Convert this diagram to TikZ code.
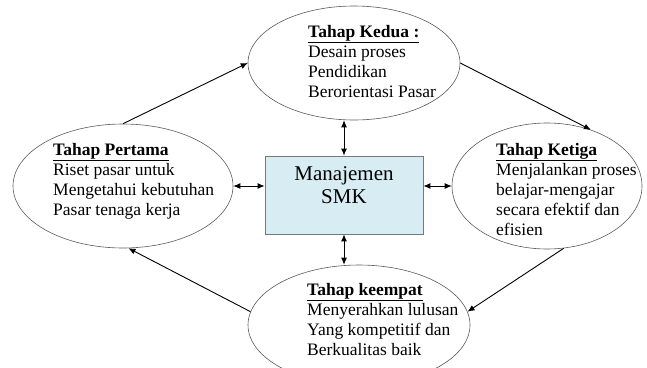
\documentclass[tikz,border=0pt]{standalone}
\usepackage{fontspec}
\setmainfont{Liberation Serif}
\usetikzlibrary{shapes.geometric,arrows.meta}

\begin{document}
\begin{tikzpicture}[x=1pt,y=1pt,yscale=-1,xscale=1,
  tahap/.style={ellipse, draw={rgb, 255:red, 90; green, 90; blue, 90}, line width=0.6pt, inner sep=0pt},
  isi/.style={anchor=north west, inner sep=0pt, align=left, font=\fontsize{17.5}{20}\selectfont},
  panah/.style={-{Latex[length=7pt,width=6pt]}, line width=0.9pt},
  duapanah/.style={{Latex[length=7pt,width=6pt]}-{Latex[length=7pt,width=6pt]}, line width=0.9pt}]
\useasboundingbox (0,0) rectangle (647,367);

%Shape: Ellipse [kedua]
\node [tahap, minimum width=212, minimum height=114] (kedua) at (354,63) {};
%Shape: Ellipse [pertama]
\node [tahap, minimum width=220, minimum height=124] (pertama) at (123,186) {};
%Shape: Ellipse [ketiga]
\node [tahap, minimum width=190, minimum height=126] (ketiga) at (547,186) {};
%Shape: Ellipse [keempat]
\node [tahap, minimum width=222, minimum height=120] (keempat) at (359,325) {};
%Shape: Rectangle [smk]
\node [draw={rgb, 255:red, 120; green, 120; blue, 120}, fill={rgb, 255:red, 216; green, 236; blue, 243}, line width=0.8pt, minimum width=158, minimum height=78, inner sep=0pt] (smk) at (344,195) {};

%Straight Lines
\draw [panah] (pertama.north) -- (kedua.west) ;
\draw [panah] (kedua.east) -- (ketiga.52) ;
\draw [panah] (ketiga.-75) -- (keempat.7) ;
\draw [panah] (keempat.173) -- (pertama.-85) ;
%Straight Lines
\draw [duapanah] (smk.north) -- (smk.north |- kedua.south) ;
\draw [duapanah] (smk.south) -- (smk.south |- keempat.north) ;
\draw [duapanah] (smk.west |- pertama.east) -- (pertama.east) ;
\draw [duapanah] (smk.east |- ketiga.west) -- (ketiga.west) ;

% Text Node
\node [isi] (keduateks) at (308,25) {\textbf{\underline{Tahap Kedua :}}\\Desain proses\\Pendidikan\\Berorientasi Pasar};
% Text Node
\node [isi] (pertamateks) at (53,143) {\textbf{\underline{Tahap Pertama}}\\Riset pasar untuk\\Mengetahui kebutuhan\\Pasar tenaga kerja};
% Text Node
\node [isi] (ketigateks) at (496,143) {\textbf{\underline{Tahap Ketiga}}\\Menjalankan proses\\belajar-mengajar\\secara efektif dan\\efisien};
% Text Node
\node [isi] (keempatteks) at (307,283) {\textbf{\underline{Tahap keempat}}\\Menyerahkan lulusan\\Yang kompetitif dan\\Berkualitas baik};
% Text Node
\node [anchor=north, inner sep=0pt, align=center, font=\fontsize{21}{23}\selectfont] (smkteks) at (344,166) {Manajemen\\SMK};

\end{tikzpicture}
\end{document}
